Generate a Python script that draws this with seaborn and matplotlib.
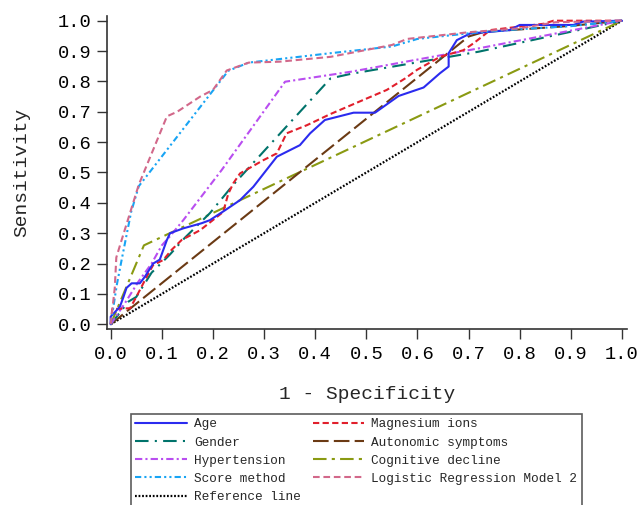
import matplotlib
matplotlib.use("Agg")
import matplotlib.pyplot as plt
import seaborn as sns
import pandas as pd

# ---- data ----
labels = ["Age", "Gender", "Hypertension", "Score method", "Reference line",
          "Magnesium ions", "Autonomic symptoms", "Cognitive decline",
          "Logistic Regression Model 2"]

age_x = [0, 0, 0.018, 0.025, 0.031, 0.041, 0.057, 0.067, 0.083, 0.096, 0.11, 0.116,
         0.142, 0.178, 0.194, 0.224, 0.253, 0.279, 0.325, 0.37, 0.39, 0.419, 0.475,
         0.517, 0.563, 0.612, 0.644, 0.661, 0.661, 0.677, 0.703, 0.78, 0.80, 0.905,
         0.924, 1.0]
age_y = [0, 0.025, 0.058, 0.09, 0.12, 0.135, 0.135, 0.157, 0.2, 0.213, 0.278, 0.3,
         0.316, 0.333, 0.343, 0.376, 0.409, 0.453, 0.552, 0.59, 0.629, 0.673, 0.697,
         0.697, 0.752, 0.78, 0.827, 0.849, 0.893, 0.936, 0.958, 0.969, 0.986, 0.986,
         0.997, 1.0]

gender_x = [0, 0.035, 0.05, 0.08, 0.116, 0.145, 0.194, 0.24, 0.305, 0.43, 0.47, 0.72, 1.0]
gender_y = [0, 0.075, 0.09, 0.17, 0.23, 0.285, 0.366, 0.46, 0.58, 0.81, 0.825, 0.898, 1.0]

hyper_x = [0, 0.028, 0.054, 0.08, 0.1, 0.116, 0.142, 0.217, 0.341, 0.47, 0.72, 1.0]
hyper_y = [0, 0.07, 0.14, 0.2, 0.26, 0.29, 0.343, 0.508, 0.799, 0.832, 0.909, 1.0]

score_x = [0, 0.012, 0.02, 0.04, 0.055, 0.23, 0.27, 0.43, 0.55, 0.60, 0.72, 0.80, 0.90, 1.0]
score_y = [0, 0.13, 0.2, 0.37, 0.455, 0.835, 0.862, 0.893, 0.915, 0.94, 0.962, 0.972, 0.982, 1.0]

ref_x = [0, 1.0]
ref_y = [0, 1.0]

mg_x = [0, 0.003, 0.038, 0.05, 0.074, 0.083, 0.103, 0.119, 0.139, 0.175, 0.22, 0.23,
        0.24, 0.253, 0.299, 0.325, 0.344, 0.384, 0.429, 0.494, 0.54, 0.576, 0.599,
        0.644, 0.69, 0.71, 0.726, 0.742, 0.847, 0.866, 1.0]
mg_y = [0, 0.05, 0.053, 0.09, 0.168, 0.195, 0.212, 0.245, 0.278, 0.31, 0.37, 0.43,
        0.465, 0.497, 0.541, 0.563, 0.629, 0.656, 0.692, 0.739, 0.772, 0.81, 0.838,
        0.881, 0.903, 0.926, 0.947, 0.969, 0.99, 1.0, 1.0]

auto_x = [0, 0.70, 0.73, 0.90, 1.0]
auto_y = [0, 0.948, 0.963, 0.983, 1.0]

cog_x = [0, 0.065, 1.0]
cog_y = [0, 0.26, 1.0]

lrm_x = [0, 0.008, 0.011, 0.02, 0.055, 0.11, 0.13, 0.175, 0.2, 0.227, 0.27, 0.33,
         0.43, 0.55, 0.58, 0.70, 0.80, 0.87, 1.0]
lrm_y = [0, 0.12, 0.22, 0.27, 0.46, 0.685, 0.70, 0.75, 0.772, 0.836, 0.862, 0.865,
         0.881, 0.92, 0.94, 0.962, 0.975, 0.995, 1.0]

xs = [age_x, gender_x, hyper_x, score_x, ref_x, mg_x, auto_x, cog_x, lrm_x]
ys = [age_y, gender_y, hyper_y, score_y, ref_y, mg_y, auto_y, cog_y, lrm_y]

colors = ["#2b2bef", "#00736b", "#b94ef0", "#18a4f4", "#000000",
          "#e11f2c", "#6b3a14", "#8a9a12", "#d2688a"]
styles = ["-", (0, (6.5, 3, 1, 3)), (0, (3.5, 1.5, 1, 1.5)), (0, (3, 1.5, 1, 1.5, 1, 1.5)),
          (0, (0.8, 0.8)), (0, (3, 1.6)), (0, (7.5, 2.5)), (0, (6.5, 2.5, 1.5, 2.5)), (0, (3.2, 1.8))]
widths = [1.5, 1.5, 1.5, 1.5, 1.6, 1.5, 1.5, 1.5, 1.5]

# ---- figure ----
sns.set_theme(style="ticks")
plt.rcParams["font.family"] = ["Liberation Mono", "DejaVu Sans"]

fig = plt.figure(figsize=(6.43, 5.05), dpi=100)
ax = fig.add_axes([107 / 643, 1 - 329 / 505, (627 - 107) / 643, (329 - 16) / 505])

draw_order = [4, 7, 6, 1, 2, 5, 0, 3, 8]
handles = {}
for i in draw_order:
    d = pd.DataFrame({"x": xs[i], "y": ys[i]})
    sns.lineplot(data=d, x="x", y="y", sort=False, estimator=None, ax=ax,
                 color=colors[i], linestyle=styles[i], linewidth=widths[i])
    handles[i] = ax.lines[-1]

ax.set_xlim(-0.0072, 1.0098)
ax.set_ylim(-0.0155, 1.0155)
ticks = [0.0, 0.1, 0.2, 0.3, 0.4, 0.5, 0.6, 0.7, 0.8, 0.9, 1.0]
ax.set_xticks(ticks)
ax.set_yticks(ticks)
ax.set_xticklabels([f"{t:.1f}" for t in ticks])
ax.set_yticklabels([f"{t:.1f}" for t in ticks])
ax.tick_params(axis="both", direction="out", length=7, width=1.0, color="#333333",
               labelsize=13.5, pad=4, labelcolor="black")
ax.tick_params(axis="x", pad=5)
for s in ["top", "right"]:
    ax.spines[s].set_visible(False)
for s in ["left", "bottom"]:
    ax.spines[s].set_color("#333333")
    ax.spines[s].set_linewidth(1.2)

ax.set_xlabel("1 - Specificity", fontsize=14, labelpad=17)
ax.set_ylabel("Sensitivity", fontsize=14, labelpad=20)

leg = fig.legend([handles[i] for i in range(9)], labels, ncol=2,
                 loc="upper left", bbox_to_anchor=(131 / 643, 1 - 414 / 505),
                 bbox_transform=fig.transFigure, frameon=True, fancybox=False,
                 fontsize=9.2, handlelength=4.0, handletextpad=0.6,
                 columnspacing=0.9, labelspacing=0.48, borderpad=0.35,
                 borderaxespad=0.0)
leg.get_frame().set_edgecolor("#333333")
leg.get_frame().set_linewidth(1.2)

fig.savefig("out.png", dpi=100)
